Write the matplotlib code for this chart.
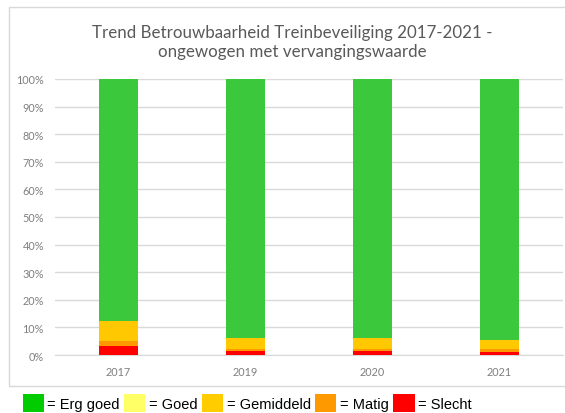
import numpy as np
import matplotlib
matplotlib.use("Agg")
import matplotlib.pyplot as plt
from matplotlib.patches import Patch, Rectangle

years = ["2017", "2019", "2020", "2021"]
slecht = [3.1, 1.3, 1.3, 1.2]
matig = [2.1, 0.9, 0.9, 0.9]
goed = [0.0, 0.0, 0.0, 0.0]
gemiddeld = [7.0, 3.8, 3.8, 3.2]
erg_goed = [100 - s - m - g - gm for s, m, g, gm in zip(slecht, matig, goed, gemiddeld)]

series = [
    (slecht, "#FF0000"),
    (matig, "#FF9900"),
    (gemiddeld, "#FFC800"),
    (goed, "#FFFF66"),
    (erg_goed, "#3CC83C"),
]

legend_items = [
    ("= Erg goed", "#00CC00"),
    ("= Goed", "#FFFF66"),
    ("= Gemiddeld", "#FFCC00"),
    ("= Matig", "#FF9900"),
    ("= Slecht", "#FF0000"),
]

fig = plt.figure(figsize=(5.65, 4.14), dpi=100)
ax = fig.add_axes([0.0973, 0.140, 0.899, 0.667])

# chart frame
fig.patches.append(Rectangle((0.016, 0.065), 1.0, 0.916, transform=fig.transFigure,
                             fill=False, edgecolor="#D9D9D9", linewidth=1))

x = np.arange(len(years))
bottom = np.zeros(len(years))
for vals, col in series:
    ax.bar(x, vals, bottom=bottom, width=0.31, color=col, linewidth=0, zorder=3)
    bottom += np.array(vals)

ax.set_xlim(-0.5, 3.5)
ax.set_ylim(0, 100)
ax.set_yticks(np.arange(0, 101, 10))
ax.set_yticklabels([f"{v}%" for v in range(0, 101, 10)])
ax.set_xticks(x)
ax.set_xticklabels(years)
ax.grid(axis="y", color="#D9D9D9", linewidth=1, zorder=0)
for s in ["top", "right", "left"]:
    ax.spines[s].set_visible(False)
ax.spines["bottom"].set_color("#D9D9D9")
ax.tick_params(length=0, labelsize=7.8, labelcolor="#7F7F7F", pad=8)
for lab in ax.get_xticklabels() + ax.get_yticklabels():
    lab.set_family("Lato")

fig.text(0.517, 0.920, "Trend Betrouwbaarheid Treinbeveiliging 2017-2021 -",
         ha="center", va="center", fontsize=12.2, color="#595959", family="Lato")
fig.text(0.517, 0.874, "ongewogen met vervangingswaarde",
         ha="center", va="center", fontsize=12.2, color="#595959", family="Lato")

handles = [Patch(facecolor=c, edgecolor="none") for _, c in legend_items]
labels = [t for t, _ in legend_items]
fig.legend(handles, labels, loc="center left", bbox_to_anchor=(0.04, 0.024), ncol=5,
           frameon=False, prop={"family": "Liberation Sans", "size": 10.5},
           handlelength=1.45, handleheight=1.45, handletextpad=0.25, columnspacing=0.3,
           borderaxespad=0, borderpad=0)

fig.savefig("out.png", dpi=100)
